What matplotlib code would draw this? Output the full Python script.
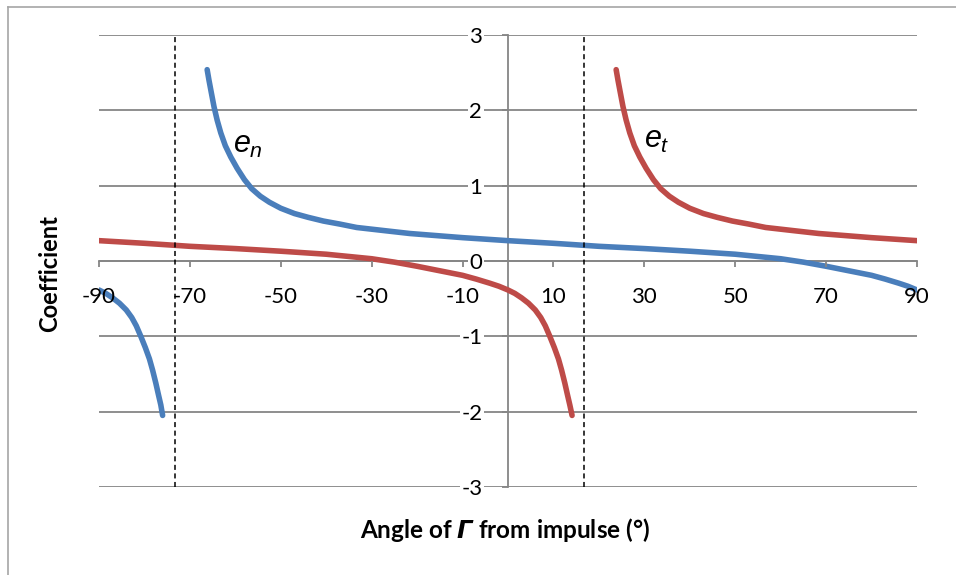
import matplotlib
matplotlib.use("Agg")
import matplotlib.pyplot as plt
from matplotlib.lines import Line2D

# e_n : normal coefficient, two branches either side of the asymptote
en_left_x = [-90, -88.5, -87, -85.5, -84, -82.8, -81.8, -80.8, -79.8, -78.9, -78.2, -77.5, -76.9, -76.4, -76.0]
en_left_y = [-0.385, -0.43, -0.49, -0.56, -0.65, -0.75, -0.86, -1.0, -1.15, -1.30, -1.45, -1.62, -1.78, -1.91, -2.05]

en_right_x = [-66.2, -65.8, -65.3, -64.7, -64.0, -63.2, -62.2, -61.0, -59.6, -58.0, -56.4, -54.5,
              -52.5, -50, -47, -44, -40.6, -37, -33.3, -28.2, -21.6, -10, 0, 10, 20, 30, 40, 45, 50,
              55, 60, 65, 70, 75, 80, 83, 86, 88, 90]
en_right_y = [2.54, 2.40, 2.24, 2.05, 1.87, 1.70, 1.53, 1.38, 1.23, 1.08, 0.96, 0.86,
              0.78, 0.70, 0.63, 0.58, 0.53, 0.49, 0.445, 0.41, 0.365, 0.31, 0.27, 0.235, 0.195, 0.165, 0.13, 0.11, 0.09,
              0.06, 0.03, -0.015, -0.07, -0.13, -0.19, -0.24, -0.295, -0.335, -0.385]

# e_t : tangential coefficient
et_left_x = [-90, -80, -70, -60, -50, -45, -40, -35, -30, -25, -20, -15, -10, -7, -4, -2, 0,
             1.5, 3, 4.5, 6, 7.2, 8.2, 9.2, 10.2, 11.1, 11.8, 12.5, 13.1, 13.6, 14.1]
et_left_y = [0.27, 0.235, 0.195, 0.165, 0.13, 0.11, 0.09, 0.06, 0.03, -0.015, -0.07, -0.13, -0.19, -0.24, -0.295, -0.335, -0.385,
             -0.43, -0.49, -0.56, -0.65, -0.75, -0.86, -1.0, -1.15, -1.30, -1.45, -1.62, -1.78, -1.91, -2.05]

et_right_x = [23.8, 24.2, 24.7, 25.3, 26.0, 26.8, 27.8, 29.0, 30.4, 32.0, 33.6, 35.5, 37.5, 40, 43, 46,
              49.4, 53, 56.7, 61.8, 68.4, 80, 90]
et_right_y = [2.54, 2.40, 2.24, 2.05, 1.87, 1.70, 1.53, 1.38, 1.23, 1.08, 0.96, 0.86, 0.78, 0.70, 0.63, 0.58,
              0.53, 0.49, 0.445, 0.41, 0.365, 0.31, 0.27]

asymptotes = [-73.3, 16.7]
x_ticks = [-90, -70, -50, -30, -10, 10, 30, 50, 70, 90]
y_ticks = [-3, -2, -1, 0, 1, 2, 3]

BLUE = '#4a7ebb'
RED = '#be4b48'
GRID = '#868686'

plt.rcParams['font.family'] = ['Lato', 'DejaVu Sans']
plt.rcParams['mathtext.fontset'] = 'custom'
plt.rcParams['mathtext.it'] = 'Liberation Sans:italic'
plt.rcParams['mathtext.rm'] = 'DejaVu Sans:bold:italic'

fig = plt.figure(figsize=(9.56, 5.75), dpi=100)
ax = fig.add_axes([99 / 956, 1 - 487 / 575, 818 / 956, 452 / 575])
ax.set_xlim(-90, 90)
ax.set_ylim(-3, 3)

# horizontal gridlines
for y in y_ticks:
    ax.axhline(y, color=GRID, lw=1.3, zorder=1)

# axes cross at the origin
for side in ['top', 'right']:
    ax.spines[side].set_visible(False)
ax.spines['bottom'].set_position(('data', 0))
ax.spines['left'].set_position(('data', 0))
for side in ['bottom', 'left']:
    ax.spines[side].set_color(GRID)
    ax.spines[side].set_linewidth(1.3)
    ax.spines[side].set_zorder(1.2)

ax.set_xticks(x_ticks)
ax.set_xticklabels([str(v) for v in x_ticks])
ax.set_yticks(y_ticks)
ax.set_yticklabels([str(v) for v in y_ticks])
ax.tick_params(axis='both', direction='out', length=4.5, width=1.3, color=GRID,
               labelsize=16, labelcolor='black')
ax.tick_params(axis='x', pad=14.5)
ax.tick_params(axis='y', pad=14)
for lbl in ax.get_yticklabels():
    lbl.set_bbox(dict(facecolor='white', edgecolor='none', pad=1))
ax.xaxis.set_zorder(5)
ax.yaxis.set_zorder(1.5)

# curves
line_kw = dict(lw=4, solid_capstyle='round', solid_joinstyle='round', zorder=3)
ax.plot(en_left_x, en_left_y, color=BLUE, **line_kw)
ax.plot(en_right_x, en_right_y, color=BLUE, **line_kw)
ax.plot(et_left_x, et_left_y, color=RED, **line_kw)
ax.plot(et_right_x, et_right_y, color=RED, **line_kw)

# asymptotes
for xa in asymptotes:
    ax.axvline(xa, color='black', lw=1.1, dashes=(3.3, 2.3), zorder=4)

ax.text(-60.5, 1.43, r'$e_n$', fontsize=22, ha='left', va='baseline', zorder=6)
ax.text(29.9, 1.495, r'$e_t$', fontsize=22, ha='left', va='baseline', zorder=6)

fig.text(505 / 956, 1 - 530 / 575, r'Angle of $\mathrm{\Gamma}$ from impulse (°)',
         ha='center', va='center', fontsize=17.5, fontweight='bold')
fig.text(50 / 956, 1 - 274 / 575, 'Coefficient', rotation=90,
         ha='center', va='center', fontsize=17, fontweight='bold')

# chart frame
fig.add_artist(Line2D([8 / 956, 8 / 956], [1 - 7 / 575, 0], transform=fig.transFigure,
                      color='#a6a6a6', lw=1.2))
fig.add_artist(Line2D([8 / 956, 1], [1 - 7 / 575, 1 - 7 / 575], transform=fig.transFigure,
                      color='#a6a6a6', lw=1.2))

fig.savefig('out.png', dpi=100, facecolor='white')
